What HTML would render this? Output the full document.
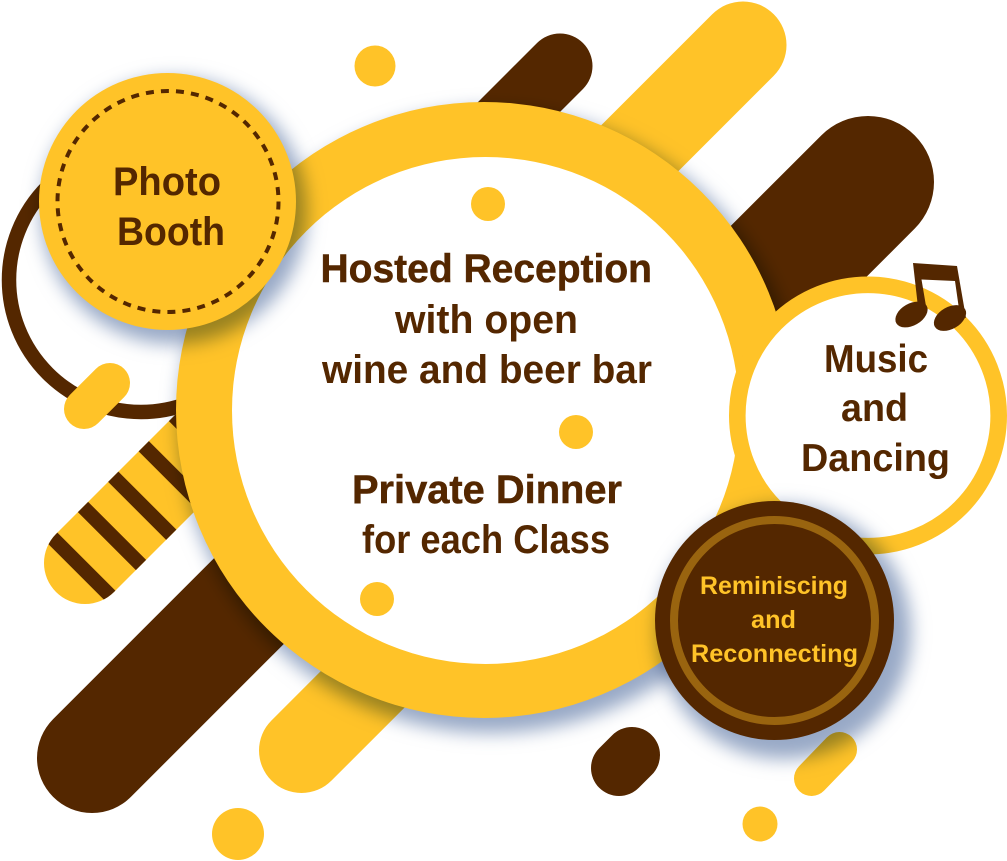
<!DOCTYPE html>
<html lang="en"><head><meta charset="utf-8"><title>Reunion highlights</title>
<style>
html,body{margin:0;padding:0;background:#fff}
svg{display:block}
text{font-family:"Liberation Sans",Arial,sans-serif;font-weight:bold;fill:#542700}
.sh{mix-blend-mode:multiply}
</style></head><body>
<svg width="1007" height="861" viewBox="0 0 1007 861" xmlns="http://www.w3.org/2000/svg">
<defs>
<filter id="b" x="-20%" y="-20%" width="140%" height="140%"><feGaussianBlur stdDeviation="9"/></filter>
<clipPath id="stripe"><path d="M56,534 L271,319 L329,377 L114,592 A41,41 0 0 1 56,534Z"/></clipPath>
</defs>
<rect width="1007" height="861" fill="#fff"/>

<!-- background capsules -->
<g fill="none" stroke-linecap="round">
<line x1="560" y1="66" x2="400" y2="226" stroke="#542700" stroke-width="65"/>
<line x1="743" y1="45" x2="500" y2="288" stroke="#ffc328" stroke-width="87"/>
<line x1="868" y1="182" x2="620" y2="430" stroke="#542700" stroke-width="132"/>
<line x1="92" y1="758" x2="400" y2="450" stroke="#542700" stroke-width="110"/>
<line x1="301.5" y1="750.5" x2="500" y2="552" stroke="#ffc328" stroke-width="85"/>
<circle cx="141" cy="280" r="132" stroke="#542700" stroke-width="14.5"/>
<line x1="84" y1="409" x2="110" y2="383" stroke="#ffc328" stroke-width="40"/>
</g>

<!-- striped capsule -->
<path d="M56,534 L271,319 L329,377 L114,592 A41,41 0 0 1 56,534Z" fill="#ffc328"/>
<g clip-path="url(#stripe)" stroke="#542700" stroke-width="14.5">
<line x1="20" y1="505.5" x2="140" y2="625.5"/>
<line x1="50" y1="474" x2="170" y2="594"/>
<line x1="80" y1="443.5" x2="200" y2="563.5"/>
<line x1="110" y1="412.5" x2="230" y2="532.5"/>
<line x1="140" y1="382" x2="260" y2="502"/>
</g>

<!-- decorative dots and small capsules -->
<g fill="#ffc328">
<circle cx="375" cy="66" r="20.5"/>
<circle cx="238" cy="834" r="26"/>
<circle cx="760" cy="824" r="17.5"/>
</g>
<line x1="619" y1="768" x2="632" y2="755" stroke="#542700" stroke-width="56" stroke-linecap="round"/>
<line x1="811.5" y1="778.5" x2="839.5" y2="749.5" stroke="#ffc328" stroke-width="35" stroke-linecap="round"/>

<!-- main ring -->
<circle class="sh" cx="491" cy="421" r="312" fill="#98a9c6" filter="url(#b)"/>
<circle cx="484" cy="410" r="308" fill="#ffc328"/>
<circle cx="485.5" cy="410.5" r="253.5" fill="#fff"/>
<circle cx="488" cy="204" r="17" fill="#ffc328"/>
<circle cx="576" cy="432" r="17" fill="#ffc328"/>
<circle cx="377" cy="599" r="17" fill="#ffc328"/>

<!-- main text -->
<text x="320.5" y="282" font-size="40" textLength="331.5" lengthAdjust="spacingAndGlyphs" stroke="#542700" stroke-width=".5">Hosted Reception</text>
<text x="395" y="333" font-size="40" textLength="183" lengthAdjust="spacingAndGlyphs">with open</text>
<text x="322" y="383" font-size="40" textLength="330" lengthAdjust="spacingAndGlyphs">wine and beer bar</text>
<text x="352" y="503" font-size="40" textLength="270" lengthAdjust="spacingAndGlyphs" stroke="#542700" stroke-width=".5">Private Dinner</text>
<text x="362" y="553" font-size="40" textLength="248" lengthAdjust="spacingAndGlyphs">for each Class</text>

<!-- photo booth -->
<circle class="sh" cx="174" cy="211" r="133" fill="#98a9c6" filter="url(#b)"/>
<circle cx="167.5" cy="201.5" r="128.5" fill="#ffc328"/>
<circle cx="168" cy="201.5" r="110.5" fill="none" stroke="#542700" stroke-width="4" stroke-dasharray="8 7.1"/>
<text x="113" y="195" font-size="40" textLength="108" lengthAdjust="spacingAndGlyphs">Photo</text>
<text x="117" y="245" font-size="40" textLength="108" lengthAdjust="spacingAndGlyphs">Booth</text>

<!-- music -->
<circle cx="868" cy="415.5" r="130.7" fill="#fff" stroke="#ffc328" stroke-width="16.6"/>
<path d="M913,263 L957,266 L966,318 L960,316 L955,281 L921.5,279.5 L927,312 L919,316Z" fill="#542700"/>
<ellipse cx="911.5" cy="314.5" rx="17.5" ry="11" transform="rotate(-30 911.5 314.5)" fill="#542700"/>
<ellipse cx="950" cy="318" rx="17.5" ry="11" transform="rotate(-30 950 318)" fill="#542700"/>
<text x="824" y="372" font-size="39" textLength="104" lengthAdjust="spacingAndGlyphs">Music</text>
<text x="841" y="421" font-size="39" textLength="67" lengthAdjust="spacingAndGlyphs">and</text>
<text x="801" y="471" font-size="39" textLength="149" lengthAdjust="spacingAndGlyphs">Dancing</text>

<!-- reminiscing -->
<circle class="sh" cx="784" cy="632" r="127" fill="#98a9c6" filter="url(#b)"/>
<circle cx="774.5" cy="620.5" r="119.5" fill="#542700"/>
<circle cx="774.5" cy="620.5" r="100.5" fill="none" stroke="#99640f" stroke-width="8"/>
<text x="700" y="594" font-size="25" textLength="148" lengthAdjust="spacingAndGlyphs" style="fill:#ffc328">Reminiscing</text>
<text x="751" y="628" font-size="25" textLength="45" lengthAdjust="spacingAndGlyphs" style="fill:#ffc328">and</text>
<text x="691" y="662" font-size="25" textLength="167" lengthAdjust="spacingAndGlyphs" style="fill:#ffc328">Reconnecting</text>
</svg>
</body></html>
